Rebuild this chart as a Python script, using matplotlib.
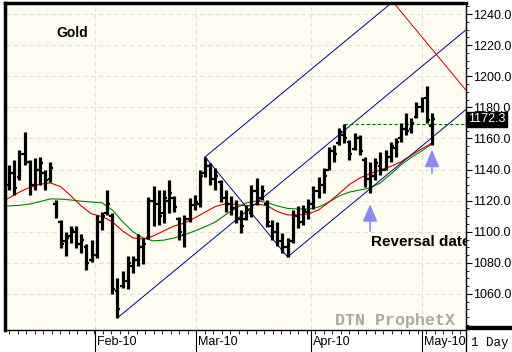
import numpy as np
from matplotlib import pyplot as plt
from matplotlib import transforms
from matplotlib.patches import Rectangle
from matplotlib.lines import Line2D

# daily gold bars, Jan - May 2010
highs = [1142.9, 1146.1, 1152.6, 1164.1, 1146.1, 1147.4, 1148.1, 1139.7, 1144.9, 1120.4,
         1107.6, 1099.9, 1103.7, 1103.7, 1098.6, 1092.1, 1094.7, 1110.8, 1112.7, 1126.8,
         1112.1, 1070.3, 1074.8, 1084.4, 1084.4, 1098.6, 1096.0, 1122.4, 1129.4, 1126.8,
         1126.8, 1133.3, 1123.0, 1109.5, 1110.8, 1121.7, 1123.6, 1139.7, 1148.1, 1144.2,
         1141.0, 1133.3, 1126.8, 1123.0, 1120.4, 1114.0, 1117.2, 1130.1, 1134.6, 1130.1,
         1120.4, 1107.6, 1106.3, 1099.2, 1096.0, 1114.0, 1116.6, 1117.2, 1121.1, 1129.4,
         1135.2, 1141.0, 1154.5, 1155.8, 1166.7, 1169.5, 1159.0, 1163.5, 1162.2, 1148.1,
         1144.9, 1147.4, 1151.3, 1152.6, 1157.7, 1160.3, 1169.9, 1176.4, 1173.1, 1183.4,
         1186.6, 1193.7, 1176.4]
lows = [1126.8, 1123.6, 1133.3, 1142.9, 1123.6, 1126.8, 1130.1, 1126.8, 1132.0, 1108.9,
        1089.6, 1084.4, 1092.8, 1089.6, 1086.4, 1075.4, 1080.6, 1083.1, 1101.1, 1110.8,
        1060.0, 1044.6, 1063.8, 1063.2, 1073.5, 1078.0, 1079.3, 1095.3, 1103.7, 1104.3,
        1105.6, 1112.1, 1112.7, 1094.7, 1090.2, 1106.3, 1114.0, 1115.9, 1135.2, 1130.1,
        1126.8, 1119.1, 1112.7, 1110.8, 1105.6, 1099.2, 1107.6, 1109.5, 1117.2, 1120.4,
        1103.1, 1094.7, 1090.8, 1086.4, 1083.8, 1092.8, 1102.4, 1104.3, 1108.2, 1114.6,
        1121.7, 1124.9, 1139.7, 1144.9, 1155.8, 1157.1, 1146.1, 1152.6, 1149.4, 1128.8,
        1124.9, 1133.3, 1136.5, 1139.7, 1144.9, 1148.1, 1157.7, 1162.2, 1163.5, 1173.1,
        1177.0, 1169.9, 1155.8]
opens = [1130, 1138, 1135, 1150, 1145, 1130, 1140, 1138, 1134, 1118,
         1106, 1094, 1097, 1100, 1092, 1090, 1082, 1085, 1106, 1112,
         1110, 1062, 1065, 1068, 1078, 1082, 1090, 1096, 1120, 1118,
         1112, 1120, 1122, 1108, 1098, 1108, 1117, 1118, 1138, 1142,
         1134, 1132, 1122, 1118, 1115, 1108, 1108, 1112, 1126, 1122,
         1118, 1104, 1100, 1094, 1090, 1094, 1110, 1106, 1113, 1118,
         1126, 1130, 1140, 1152, 1157, 1162, 1158, 1153, 1160, 1146,
         1134, 1136, 1142, 1140, 1148, 1154, 1160, 1166, 1166, 1174,
         1180, 1186, 1168]
closes = [1138, 1128, 1150, 1155, 1130, 1140, 1144, 1133, 1141, 1112,
          1092, 1096, 1101, 1092, 1095, 1080, 1085, 1106, 1110, 1118,
          1063, 1050, 1070, 1080, 1082, 1090, 1092, 1120, 1118, 1110,
          1122, 1125, 1116, 1100, 1108, 1118, 1119, 1136, 1142, 1134,
          1136, 1122, 1118, 1115, 1108, 1104, 1114, 1126, 1122, 1126,
          1106, 1100, 1094, 1090, 1092, 1110, 1106, 1114, 1118, 1126,
          1132, 1136, 1152, 1150, 1164, 1160, 1150, 1160, 1152, 1134,
          1136, 1144, 1140, 1150, 1155, 1158, 1166, 1165, 1170, 1180,
          1184, 1172, 1172.3]

# moving averages read at a few bars
ma_idx = [-1, 0, 2, 4, 6, 8, 10, 12, 14, 16, 18, 20, 22, 24, 26, 28, 30, 32, 34, 36, 38, 40,
          42, 44, 46, 48, 50, 52, 54, 56, 58, 60, 62, 64, 66, 68, 70, 72, 74, 76, 78, 80, 82]
ma_fast = [1120.0, 1121.8, 1125.5, 1128.6, 1130.6, 1131.4, 1129.0, 1123.0, 1116.5, 1111.5,
           1109.8, 1106.5, 1100.5, 1096.0, 1095.3, 1097.3, 1100.6, 1103.7, 1105.6, 1108.9,
           1112.6, 1116.2, 1118.0, 1117.6, 1116.5, 1117.8, 1116.8, 1113.0, 1110.8, 1110.8,
           1111.4, 1114.0, 1119.0, 1124.6, 1130.4, 1134.6, 1137.4, 1139.7, 1142.0, 1145.0,
           1149.2, 1153.3, 1157.1]
ma_slow = [1116.2, 1116.6, 1117.0, 1117.8, 1119.4, 1121.1, 1121.0, 1120.4, 1119.6, 1119.1,
           1118.6, 1114.0, 1106.5, 1100.0, 1096.0, 1094.1, 1094.6, 1096.0, 1098.0, 1100.5,
           1103.2, 1106.3, 1111.0, 1115.3, 1118.5, 1119.8, 1118.8, 1116.6, 1115.0, 1114.6,
           1114.6, 1115.9, 1119.0, 1123.0, 1125.5, 1126.8, 1128.2, 1131.4, 1137.0, 1143.0,
           1147.8, 1151.9, 1156.4]

month_pos = [16.6, 36.2, 58.5, 80.0]
month_labels = ["Feb-10", "Mar-10", "Apr-10", "May-10"]
price_ticks = [1060, 1080, 1100, 1120, 1140, 1160, 1180, 1200, 1220, 1240]

pivot_a, pivot_b, pivot_c = 21, 38, 54
last_price = 1172.3
hline_start, hline_price = 65, 1169.5
red_x = [74.6, 88.6]
red_y = [1247.1, 1191.0]
arrow_bars = [70, 82]
arrow_tips = [1119.5, 1154.5]
arrow_tails = [1098.6, 1135.9]

X_MIN, X_MAX = -0.8, 88.6
Y_MIN, Y_MAX = 1036.8, 1247.1


def main():
    plt.rcParams["font.family"] = ["Liberation Sans", "DejaVu Sans"]
    fig = plt.figure(figsize=(5.12, 3.52), dpi=100)
    fig.patch.set_facecolor("white")
    ax = fig.add_axes([5 / 512, 22 / 352, 461 / 512, 327 / 352])
    ax.set_facecolor("#fffdf1")
    ax.set_xlim(X_MIN, X_MAX)
    ax.set_ylim(Y_MIN, Y_MAX)

    grid_kw = dict(color="#e4e0d0", lw=0.8, ls=(0, (4, 3)), zorder=0)
    for p in price_ticks:
        ax.axhline(p, **grid_kw)
    for m in month_pos:
        ax.axvline(m, **grid_kw)

    # moving averages
    ax.plot(ma_idx, ma_slow, color="#008000", lw=0.8, zorder=2)
    ax.plot(ma_idx, ma_fast, color="#cc0000", lw=0.8, zorder=2)

    # OHLC bars
    x = np.arange(len(highs))
    ax.vlines(x, lows, highs, color="black", lw=2.3, zorder=3)
    ax.hlines(opens, x - 0.55, x, color="black", lw=1.6, zorder=3)
    ax.hlines(closes, x, x + 0.55, color="black", lw=1.6, zorder=3)

    # pitchfork
    mid_x = (pivot_b + pivot_c) / 2
    mid_y = (highs[pivot_b] + lows[pivot_c]) / 2
    slope = (mid_y - lows[pivot_a]) / (mid_x - pivot_a) * 0.96
    navy = "#000080"
    for px, py in [(pivot_a, lows[pivot_a]), (pivot_b, highs[pivot_b]), (pivot_c, lows[pivot_c])]:
        ax.plot([px, X_MAX], [py, py + slope * (X_MAX - px)], color=navy, lw=0.7, zorder=2)
    ax.plot([pivot_b, pivot_c], [highs[pivot_b], lows[pivot_c]], color=navy, lw=0.7, zorder=2)
    ax.plot(red_x, red_y, color="#c00000", lw=0.7, zorder=2)

    ax.plot([hline_start, X_MAX], [hline_price, hline_price], color="#007000",
            lw=0.8, ls=(0, (3, 2)), zorder=2)

    for bx, tip, tail in zip(arrow_bars, arrow_tips, arrow_tails):
        ax.annotate("", xy=(bx, tip), xytext=(bx, tail),
                    arrowprops=dict(arrowstyle="-|>,head_width=0.32,head_length=0.75",
                                    color="#8a8af0", lw=1.2, mutation_scale=14))

    ax.text(0.111, 0.908, "Gold", transform=ax.transAxes, fontsize=10,
            fontweight="bold", va="center", ha="left")
    rev = ax.text(0.794, 0.269, "Reversal date", transform=ax.transAxes, fontsize=11,
                  fontweight="bold", va="center", ha="left")
    rev.set_clip_on(True)
    rev.set_clip_box(ax.bbox)
    ax.text(0.976, 0.028, "DTN ProphetX", transform=ax.transAxes, fontsize=12,
            family="Liberation Mono", fontweight="bold", color="#a8a8a8",
            va="center", ha="right")

    # axes and ticks
    for side in ["left", "top"]:
        ax.spines[side].set_linewidth(2.5)
    for side in ["right", "bottom"]:
        ax.spines[side].set_linewidth(1.0)
    ax.yaxis.tick_right()
    ax.set_yticks(price_ticks)
    ax.set_yticklabels([f"{p:.1f}" for p in price_ticks])
    ax.set_yticks(np.arange(1040, 1250, 5), minor=True)
    ax.tick_params(axis="y", which="major", length=4, width=0.8, pad=1, labelsize=9)
    ax.tick_params(axis="y", which="minor", length=2, width=0.6)
    ax.set_xticks(month_pos)
    ax.set_xticklabels([])
    ax.set_xticks(np.arange(0.0, X_MAX, 1.65), minor=True)
    ax.tick_params(axis="x", which="major", length=16, width=0.8)
    ax.tick_params(axis="x", which="minor", length=3, width=0.6)

    blend = transforms.blended_transform_factory(ax.transData, ax.transAxes)
    for m, lbl in zip(month_pos, month_labels):
        ax.text(m + 0.4, -0.037, lbl, transform=blend, fontsize=9,
                va="center", ha="left", clip_on=False)

    price_tr = transforms.blended_transform_factory(ax.transAxes, ax.transData)
    ax.text(1.004, last_price, f"{last_price:.1f}", transform=price_tr, fontsize=9,
            color="white", va="center", ha="left", clip_on=False,
            bbox=dict(facecolor="black", edgecolor="black", pad=1.2))

    # bottom-right corner box
    fig.add_artist(Rectangle((466 / 512, 23 / 352), 46 / 512, 3 / 352,
                             transform=fig.transFigure, color="black"))
    fig.add_artist(Line2D([466 / 512, 466 / 512], [0, 22 / 352],
                          transform=fig.transFigure, color="black", lw=1))
    fig.text(490 / 512, 1 - 343 / 352, "1 Day", family="Liberation Mono",
             fontsize=9, ha="center", va="center")

    fig.savefig("out.png", dpi=100, facecolor="white")


if __name__ == "__main__":
    main()
